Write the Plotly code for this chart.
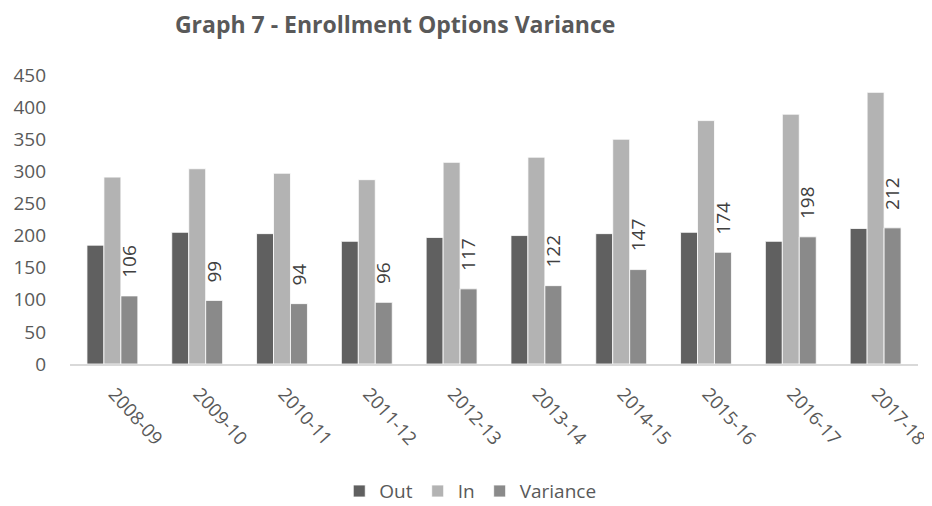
import plotly.graph_objects as go

years = ["2008-09", "2009-10", "2010-11", "2011-12", "2012-13",
         "2013-14", "2014-15", "2015-16", "2016-17", "2017-18"]
out_vals = [185, 205, 203, 191, 197, 200, 203, 205, 191, 211]
in_vals = [291, 304, 297, 287, 314, 322, 350, 379, 389, 423]
variance_vals = [106, 99, 94, 96, 117, 122, 147, 174, 198, 212]
y_ticks = [0, 50, 100, 150, 200, 250, 300, 350, 400, 450]

# the page body has an 8px margin, so the figure is a bit smaller
W, H = 924, 498
ML, MR, MT, MB = 62, 14, 67, 142
BARGAP = 0.4

FONT = "Open Sans"
fig = go.Figure()
fig.add_trace(go.Bar(name="Out", x=years, y=out_vals,
                     marker=dict(color="#606060", line=dict(color="#ffffff", width=0.8))))
fig.add_trace(go.Bar(name="In", x=years, y=in_vals,
                     marker=dict(color="#b3b3b3", line=dict(color="#ffffff", width=0.8))))
fig.add_trace(go.Bar(name="Variance", x=years, y=variance_vals,
                     marker=dict(color="#8a8a8a", line=dict(color="#ffffff", width=0.8))))

# data labels over the Variance bars
plot_w = W - ML - MR
cat_w = plot_w / len(years)
bar_w = cat_w * (1 - BARGAP) / 3
for yr, v in zip(years, variance_vals):
    fig.add_annotation(x=yr, y=v, xref="x", yref="y", text=str(v),
                       showarrow=False, textangle=-90, xanchor="center",
                       yanchor="bottom", xshift=bar_w, yshift=16,
                       font=dict(family=FONT, size=19, color="#404040"))

fig.update_layout(
    width=W, height=H,
    margin=dict(l=ML, r=MR, t=MT, b=MB, autoexpand=False),
    paper_bgcolor="white", plot_bgcolor="white",
    barmode="group", bargap=BARGAP, bargroupgap=0,
    title=dict(text="<b>Graph 7 - Enrollment Options Variance</b>",
               x=0.419, xanchor="center", y=0.966, yanchor="middle",
               font=dict(family=FONT, size=23, color="#595959")),
    legend=dict(orientation="h", x=0.472, xanchor="center", y=-0.44,
                yanchor="middle", font=dict(family=FONT, size=19, color="#595959"),
                itemwidth=30, traceorder="normal"),
    xaxis=dict(type="category", showline=True, linecolor="#d9d9d9", linewidth=1.5,
               showgrid=False, ticks="", tickangle=48, automargin=False,
               ticklabelstandoff=10, ticklabelshift=2,
               tickfont=dict(family=FONT, size=18.5, color="#595959")),
    yaxis=dict(range=[0, 450], tickvals=y_ticks, showgrid=False,
               showline=False, zeroline=False, ticks="", automargin=False,
               ticklabelstandoff=23,
               tickfont=dict(family=FONT, size=19, color="#595959")),
)

fig.write_html("out.html")
